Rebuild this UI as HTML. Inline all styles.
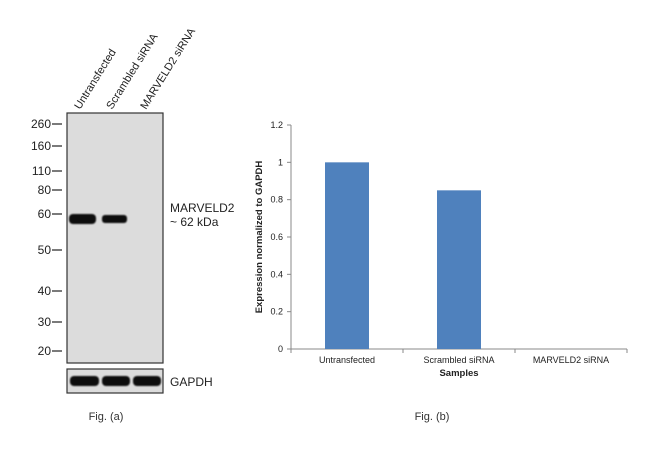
<!DOCTYPE html>
<html><head><meta charset="utf-8"><style>
body{margin:0;background:#fff;width:650px;height:456px;overflow:hidden;font-family:"Liberation Sans",Arial,sans-serif}
svg{display:block}
</style></head><body>
<svg width="650" height="456">
<defs><filter id="blur"><feGaussianBlur stdDeviation="0.8"/></filter></defs>
<g>
<rect x="67" y="113" width="96" height="250" fill="#dcdcdc" stroke="#333" stroke-width="1.2"/>
<rect x="67" y="369" width="96" height="24" fill="#dcdcdc" stroke="#333" stroke-width="1.2"/>
<g filter="url(#blur)" fill="#111">
<rect x="69" y="214" width="27" height="10" rx="4"/>
<rect x="102" y="215" width="25" height="8" rx="3"/>
<rect x="70" y="376" width="29" height="10" rx="4"/>
<rect x="102" y="376" width="28" height="10" rx="4"/>
<rect x="133" y="376" width="28" height="10" rx="4"/>
</g>
<g font-size="12" fill="#222" text-anchor="end" id="mw"></g>
<g font-size="11" fill="#222">
<text transform="translate(80,110) rotate(-58)">Untransfected</text>
<text transform="translate(112,110) rotate(-58)">Scrambled siRNA</text>
<text transform="translate(146,110) rotate(-58)">MARVELD2 siRNA</text>
</g>
<text x="170" y="212" font-size="12" fill="#222">MARVELD2</text>
<text x="170" y="226" font-size="12" fill="#222">~ 62 kDa</text>
<text x="170" y="386" font-size="12" fill="#222">GAPDH</text>
<text x="106" y="420" font-size="11" fill="#333" text-anchor="middle">Fig. (a)</text>
</g>
<g id="chart"></g>
<text x="432" y="420" font-size="11" fill="#333" text-anchor="middle">Fig. (b)</text>
</svg>
<script>
const NS="http://www.w3.org/2000/svg";
const mwLabels=["260","160","110","80","60","50","40","30","20"];
const mwY=[124,146,171,190,214,250,291,322,351];
const categories=["Untransfected","Scrambled siRNA","MARVELD2 siRNA"];
const values=[1.0,0.85,0];
const yTicks=[0,0.2,0.4,0.6,0.8,1,1.2];
function mk(t,a,p,txt){const e=document.createElementNS(NS,t);for(const k in a)e.setAttribute(k,a[k]);if(txt!==undefined)e.textContent=txt;p.appendChild(e);return e;}
const mw=document.getElementById('mw');
mwLabels.forEach((l,i)=>{
 const t=mk('text',{x:51,y:mwY[i]+4},mw,l);
 
 
 const ln=mk('line',{x1:52,x2:62,y1:mwY[i],y2:mwY[i],stroke:'#222','stroke-width':1.2},mw);
 
 
});
const g=document.getElementById('chart');
const x0=291,x1=627,y0=349,yTop=125,yMax=1.2;
const Y=v=>y0-(v/yMax)*(y0-yTop);
const cw=(x1-x0)/categories.length;
const X=i=>x0+cw*(i+0.5);
const ya=mk('line',{x1:x0,x2:x0,y1:yTop,y2:y0,stroke:'#888'},g);


const xa=mk('line',{x1:x0,x2:x1,y1:y0,y2:y0,stroke:'#888'},g);


yTicks.forEach(v=>{
 const l=mk('line',{x1:x0-4,x2:x0,y1:Y(v),y2:Y(v),stroke:'#888'},g);
 
 
 const t=mk('text',{x:x0-8,y:Y(v)+3,'font-size':9,'text-anchor':'end',fill:'#222'},g,String(v));
 
 
});
for(let i=0;i<=categories.length;i++){
 const l=mk('line',{x1:x0+cw*i,x2:x0+cw*i,y1:y0,y2:y0+4,stroke:'#888'},g);
 
 
}
categories.forEach((c,i)=>{
 const h=y0-Y(values[i]);
 const b=mk('rect',{x:X(i)-22,y:Y(values[i]),width:44,height:h,fill:'#4f81bd'},g);
 
 
 const t=mk('text',{x:X(i),y:y0+14,'font-size':9,'text-anchor':'middle',fill:'#222'},g,c);
 
 
});
const xt=mk('text',{x:(x0+x1)/2,y:y0+27,'font-size':9.5,'font-weight':'bold','text-anchor':'middle',fill:'#222'},g,'Samples');


const yt=mk('text',{transform:`translate(262,${(y0+yTop)/2}) rotate(-90)`,'font-size':9.5,'font-weight':'bold','text-anchor':'middle',fill:'#222'},g,'Expression  normalized to GAPDH');


</script>
</body></html>
